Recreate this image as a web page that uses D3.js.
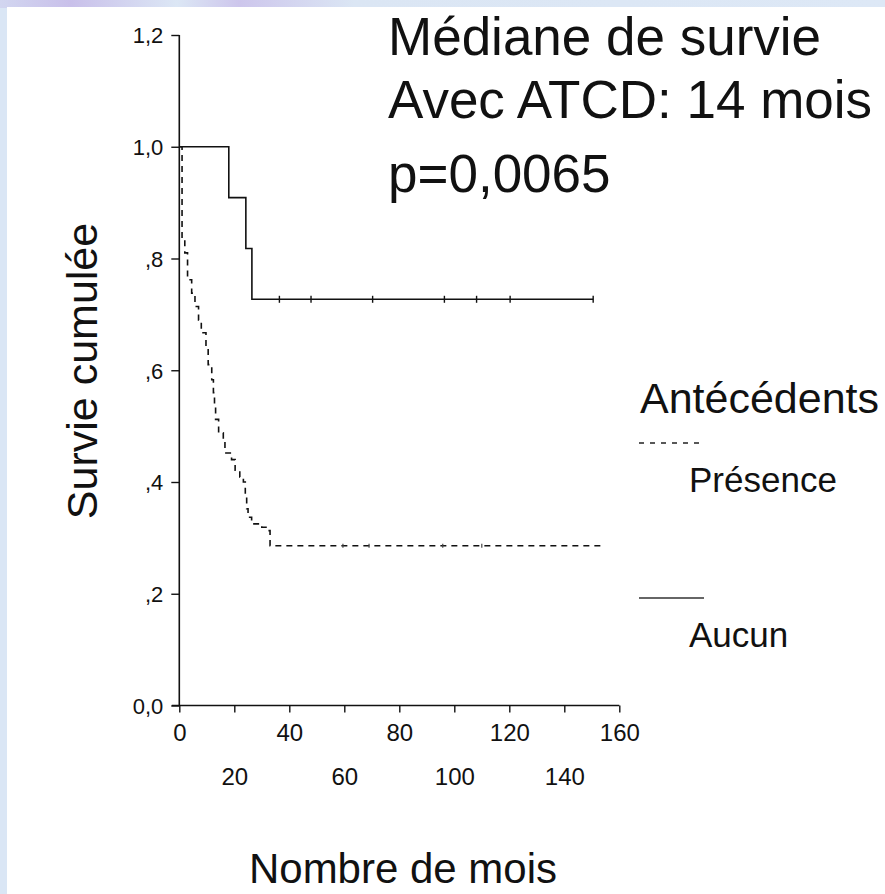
<!DOCTYPE html>
<html>
<head>
<meta charset="utf-8">
<script src="https://cdn.jsdelivr.net/npm/d3@7"></script>
<style>
  html, body { margin: 0; padding: 0; background: #d9e5f3; }
  svg { display: block; }
  text { font-family: Arial, "Liberation Sans", sans-serif; fill: #111; }
</style>
</head>
<body>
<svg width="885" height="894"></svg>
<script>
// --- data ---
// group "Aucun" (no history): step times (months) and cumulative survival after each step
const aucunTimes = [0, 18, 24.2, 26.4]
const aucunSurv = [1, 0.909, 0.818, 0.727]
const aucunCensor = [36.4, 47.9, 70.3, 96.4, 108.1, 120.3, 150.5]
const aucunEnd = 150.5

// group "Présence" (history present)
const presTimes = [0, 1, 2, 3, 4.5, 5.7, 7, 8, 9.7, 10.5, 11.8, 12.4, 12.8, 13.2, 14.3, 16, 16.6, 19, 20.3, 22, 23.3, 24, 24.5, 25, 26.3, 30, 32.4, 33]
const presSurv = [1, .833, .810, .762, .738, .714, .690, .667, .643, .610, .583, .560, .536, .512, .488, .472, .452, .440, .421, .409, .400, .376, .352, .337, .325, .319, .313, .286]
const presCensor = [59.5, 69, 95.8, 110]
const presEnd = 154

const yTicks = [0, 0.2, 0.4, 0.6, 0.8, 1.0, 1.2]
const yTickLabels = ["0,0", ",2", ",4", ",6", ",8", "1,0", "1,2"]
const xTicks = [0, 20, 40, 60, 80, 100, 120, 140, 160]

const svg = d3.select("svg")

// slide background: marbled blue edge, white panel
const grad = svg.append("defs").append("linearGradient")
  .attr("id", "edge").attr("x1", 0).attr("y1", 0).attr("x2", 1).attr("y2", 0)
grad.append("stop").attr("offset", 0).attr("stop-color", "#d2d6f0")
grad.append("stop").attr("offset", 0.08).attr("stop-color", "#c9c0ea")
grad.append("stop").attr("offset", 0.2).attr("stop-color", "#dce7f5")
grad.append("stop").attr("offset", 0.27).attr("stop-color", "#cdc6ec")
grad.append("stop").attr("offset", 0.4).attr("stop-color", "#dbe6f4")
grad.append("stop").attr("offset", 1).attr("stop-color", "#dde8f6")
svg.append("rect").attr("width", 885).attr("height", 894).attr("fill", "#dae6f5")
svg.append("rect").attr("width", 885).attr("height", 8).attr("fill", "url(#edge)")
svg.append("rect").attr("x", 7).attr("y", 7).attr("width", 878).attr("height", 887).attr("fill", "#fff")

// scales
const x = d3.scaleLinear().domain([0, 160]).range([179.3, 619.3])
const y = d3.scaleLinear().domain([0, 1.2]).range([705.5, 35])

// y axis
const yAxis = svg.append("g")
  .attr("transform", `translate(${x(0)},0)`)
  .call(d3.axisLeft(y).tickValues(yTicks).tickSize(8).tickFormat((d, i) => yTickLabels[i]))
yAxis.select(".domain").attr("d", `M0,${y(1.2)}V${y(0)}`).attr("stroke", "#111").attr("stroke-width", 1.6)
yAxis.selectAll(".tick line").attr("stroke", "#111").attr("stroke-width", 1.4)
yAxis.selectAll(".tick text")
  .attr("x", -16).attr("dy", "0.36em")
  .style("font-size", "22px").style("font-family", "Arial, 'Liberation Sans', sans-serif").attr("fill", "#111")

// x axis
const xAxis = svg.append("g")
  .attr("transform", `translate(0,${y(0)})`)
  .call(d3.axisBottom(x).tickValues(xTicks).tickSize(7).tickFormat(d3.format("d")))
xAxis.select(".domain").attr("d", `M${x(0) - 7.5},0H${x(160)}`).attr("stroke", "#111").attr("stroke-width", 1.6)
xAxis.selectAll(".tick line").attr("stroke", "#111").attr("stroke-width", 1.4)
xAxis.selectAll(".tick text")
  .attr("y", (d, i) => i % 2 === 0 ? 35.5 : 79.5).attr("dy", 0)
  .style("font-size", "24px").style("font-family", "Arial, 'Liberation Sans', sans-serif").attr("fill", "#111")

// step curves
const step = d3.line().x(d => x(d[0])).y(d => y(d[1])).curve(d3.curveStepAfter)

const aucunPts = aucunTimes.map((t, i) => [t, aucunSurv[i]])
aucunPts.push([aucunEnd, aucunSurv[aucunSurv.length - 1]])
svg.append("path")
  .attr("d", step(aucunPts))
  .attr("fill", "none").attr("stroke", "#111").attr("stroke-width", 1.6)

svg.append("g").selectAll("line")
  .data(aucunCensor)
  .enter().append("line")
  .attr("x1", d => x(d)).attr("x2", d => x(d))
  .attr("y1", y(0.727) - 3.5).attr("y2", y(0.727) + 3.5)
  .attr("stroke", "#111").attr("stroke-width", 1.4)

const presPts = presTimes.map((t, i) => [t, presSurv[i]])
presPts.push([presEnd, presSurv[presSurv.length - 1]])
svg.append("path")
  .attr("d", step(presPts))
  .attr("fill", "none").attr("stroke", "#111").attr("stroke-width", 1.6)
  .attr("stroke-dasharray", "6,5")

svg.append("g").selectAll("line")
  .data(presCensor)
  .enter().append("line")
  .attr("x1", d => x(d)).attr("x2", d => x(d))
  .attr("y1", y(0.286) - 2).attr("y2", y(0.286) + 2)
  .attr("stroke", "#444").attr("stroke-width", 1.2)

// axis titles
svg.append("text")
  .attr("transform", `translate(97,371) rotate(-90)`)
  .attr("text-anchor", "middle")
  .style("font-size", "43px")
  .text("Survie cumulée")

svg.append("text")
  .attr("x", 403).attr("y", 883)
  .attr("text-anchor", "middle")
  .style("font-size", "42px")
  .text("Nombre de mois")

// legend
svg.append("text").attr("x", 640).attr("y", 413).style("font-size", "43px").text("Antécédents")
svg.append("line").attr("x1", 639).attr("x2", 704).attr("y1", 443).attr("y2", 443)
  .attr("stroke", "#222").attr("stroke-width", 1.6).attr("stroke-dasharray", "5,6")
svg.append("text").attr("x", 689).attr("y", 492).style("font-size", "35px").text("Présence")
svg.append("line").attr("x1", 639).attr("x2", 704).attr("y1", 598).attr("y2", 598)
  .attr("stroke", "#333").attr("stroke-width", 1.6)
svg.append("text").attr("x", 689).attr("y", 647).style("font-size", "35px").text("Aucun")

// annotations
const notes = [["Médiane de survie", 55], ["Avec ATCD: 14 mois", 118], ["p=0,0065", 192]]
svg.append("g").selectAll("text")
  .data(notes)
  .enter().append("text")
  .attr("x", 388).attr("y", d => d[1])
  .style("font-size", "53px")
  .text(d => d[0])
</script>
</body>
</html>
